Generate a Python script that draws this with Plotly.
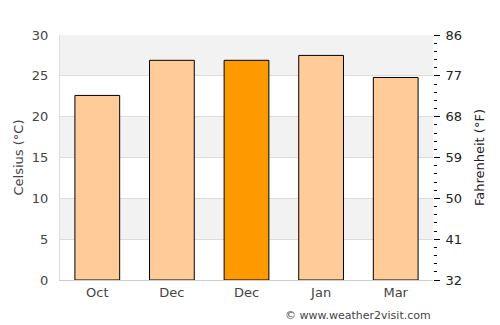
import plotly.graph_objects as go

months = ["Oct", "Dec", "Dec", "Jan", "Mar"]
temps_c = [22.6, 26.9, 26.9, 27.5, 24.8]
highlight = [False, False, True, False, False]
c_ticks = [0, 5, 10, 15, 20, 25, 30]
f_ticks = [32, 41, 50, 59, 68, 77, 86]

FONT = "DejaVu Sans"
xs = list(range(len(months)))
colors = ["#ff9900" if h else "#ffcc99" for h in highlight]

fig = go.Figure()
fig.add_trace(go.Bar(
    x=xs, y=temps_c, width=0.6,
    marker=dict(color=colors, line=dict(color="#000000", width=1)),
    hoverinfo="skip", showlegend=False,
))
fig.add_trace(go.Scatter(
    x=[0], y=[32], yaxis="y2", mode="markers",
    marker=dict(opacity=0), hoverinfo="skip", showlegend=False,
))

# alternating bands
for i in range(len(c_ticks) - 1):
    if i % 2 == 1:
        fig.add_shape(type="rect", xref="paper", yref="y",
                      x0=0, x1=1, y0=c_ticks[i], y1=c_ticks[i + 1],
                      fillcolor="#f2f2f2", line=dict(width=0), layer="below")

fig.update_layout(
    width=500, height=325,
    margin=dict(l=60, r=67, t=35, b=45),
    plot_bgcolor="white", paper_bgcolor="white",
    font=dict(family=FONT, size=13, color="#444444"),
    bargap=0.4,
    xaxis=dict(
        range=[-0.5, len(months) - 0.5],
        tickvals=xs, ticktext=months,
        showgrid=False, zeroline=False,
        showline=True, linecolor="#cccccc", linewidth=1,
        ticks="", tickfont=dict(size=13, color="#444444"),
        fixedrange=True,
    ),
    yaxis=dict(
        range=[0, 30], tickvals=c_ticks,
        showgrid=True, gridcolor="#dddddd", gridwidth=1,
        zeroline=False,
        showline=True, linecolor="#dddddd", linewidth=1,
        ticks="", ticklabelstandoff=8,
        tickfont=dict(size=13, color="#444444"),
        title=dict(text="Celsius (°C)", font=dict(size=13, color="#444444"), standoff=5),
    ),
    yaxis2=dict(
        range=[32, 86], tickvals=f_ticks,
        overlaying="y", side="right",
        showgrid=False, zeroline=False, showline=False,
        ticks="outside", ticklen=6, tickwidth=1, tickcolor="#000000",
        minor=dict(dtick=1.8, tick0=32, ticks="outside", ticklen=3, tickcolor="#000000", showgrid=False),
        ticklabelstandoff=3,
        tickfont=dict(size=13, color="#222222"),
        title=dict(text="Fahrenheit (°F)", font=dict(size=13, color="#222222"), standoff=13),
    ),
    annotations=[dict(
        text="© www.weather2visit.com", xref="paper", yref="paper",
        x=1, y=0, xanchor="right", yanchor="top", yshift=-27,
        showarrow=False, font=dict(size=11, color="#444444"),
    )],
)

fig.write_html("out.html")
